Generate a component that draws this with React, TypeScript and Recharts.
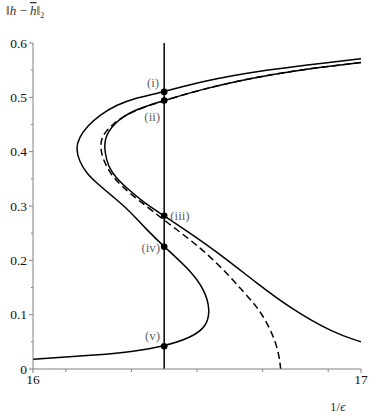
import {
  ComposedChart,
  Customized,
  Line,
  ReferenceLine,
  Scatter,
  XAxis,
  YAxis,
} from 'recharts';

// outer solid branch (S-shaped)
const curveA = [
  { x: 17.0, y: 0.571 },
  { x: 16.916, y: 0.565 },
  { x: 16.712, y: 0.551 },
  { x: 16.509, y: 0.529 },
  { x: 16.4, y: 0.51 },
  { x: 16.306, y: 0.498 },
  { x: 16.255, y: 0.486 },
  { x: 16.204, y: 0.468 },
  { x: 16.164, y: 0.446 },
  { x: 16.14, y: 0.425 },
  { x: 16.131, y: 0.406 },
  { x: 16.141, y: 0.382 },
  { x: 16.164, y: 0.36 },
  { x: 16.189, y: 0.345 },
  { x: 16.25, y: 0.314 },
  { x: 16.291, y: 0.293 },
  { x: 16.347, y: 0.256 },
  { x: 16.4, y: 0.225 },
  { x: 16.479, y: 0.182 },
  { x: 16.524, y: 0.145 },
  { x: 16.54, y: 0.109 },
  { x: 16.53, y: 0.078 },
  { x: 16.479, y: 0.057 },
  { x: 16.4, y: 0.042 },
  { x: 16.306, y: 0.032 },
  { x: 16.204, y: 0.026 },
  { x: 16.0, y: 0.018 },
];

// inner solid branch
const curveB = [
  { x: 17.0, y: 0.564 },
  { x: 16.814, y: 0.551 },
  { x: 16.662, y: 0.535 },
  { x: 16.509, y: 0.514 },
  { x: 16.4, y: 0.494 },
  { x: 16.306, y: 0.477 },
  { x: 16.245, y: 0.452 },
  { x: 16.217, y: 0.424 },
  { x: 16.219, y: 0.398 },
  { x: 16.23, y: 0.372 },
  { x: 16.25, y: 0.354 },
  { x: 16.291, y: 0.33 },
  { x: 16.341, y: 0.305 },
  { x: 16.4, y: 0.282 },
  { x: 16.479, y: 0.25 },
  { x: 16.58, y: 0.207 },
  { x: 16.682, y: 0.158 },
  { x: 16.784, y: 0.112 },
  { x: 16.916, y: 0.066 },
  { x: 17.0, y: 0.05 },
];

// dashed branch
const curveDashed = [
  { x: 17.0, y: 0.564 },
  { x: 16.814, y: 0.551 },
  { x: 16.662, y: 0.535 },
  { x: 16.509, y: 0.514 },
  { x: 16.4, y: 0.494 },
  { x: 16.306, y: 0.476 },
  { x: 16.241, y: 0.451 },
  { x: 16.209, y: 0.428 },
  { x: 16.205, y: 0.407 },
  { x: 16.214, y: 0.385 },
  { x: 16.235, y: 0.36 },
  { x: 16.27, y: 0.336 },
  { x: 16.321, y: 0.311 },
  { x: 16.4, y: 0.274 },
  { x: 16.479, y: 0.238 },
  { x: 16.54, y: 0.207 },
  { x: 16.601, y: 0.17 },
  { x: 16.646, y: 0.139 },
  { x: 16.682, y: 0.115 },
  { x: 16.712, y: 0.087 },
  { x: 16.738, y: 0.053 },
  { x: 16.751, y: 0.023 },
  { x: 16.755, y: 0 },
];

const markers = [
  { x: 16.4, y: 0.51, label: '(i)' },
  { x: 16.4, y: 0.494, label: '(ii)' },
  { x: 16.4, y: 0.282, label: '(iii)' },
  { x: 16.4, y: 0.225, label: '(iv)' },
  { x: 16.4, y: 0.042, label: '(v)' },
];

const sliceX = 16.4;

const xTicks = [16, 16.1, 16.2, 16.3, 16.4, 16.5, 16.6, 16.7, 16.8, 16.9, 17];
const xMajor = ['16', '16.2', '16.4', '16.6', '16.8', '17'];
const yTicks = [0, 0.05, 0.1, 0.15, 0.2, 0.25, 0.3, 0.35, 0.4, 0.45, 0.5, 0.55, 0.6];
const yMajor = ['0', '0.1', '0.2', '0.3', '0.4', '0.5', '0.6'];

const FONT = "'Liberation Serif', serif";
const AXIS = '#808080';

// label placement relative to the dot
const labelPos: Record<string, { dx: number; dy: number; anchor: string }> = {
  '(i)': { dx: -5, dy: -5, anchor: 'end' },
  '(ii)': { dx: -4, dy: 20, anchor: 'end' },
  '(iii)': { dx: 6, dy: 4, anchor: 'start' },
  '(iv)': { dx: -4, dy: 5, anchor: 'end' },
  '(v)': { dx: -4, dy: -6, anchor: 'end' },
};

const YTick = (props: any) => {
  const { x, y, payload } = props;
  const lbl = String(payload.value);
  const major = yMajor.includes(lbl);
  return (
    <g>
      <line x1={x - (major ? 4 : 2)} x2={x} y1={y} y2={y} stroke={AXIS} />
      {major && (
        <text x={x - 6} y={y + 4.5} textAnchor="end" style={{ fontFamily: FONT, fontSize: 13.5 }} fill="#111">
          {lbl}
        </text>
      )}
    </g>
  );
};

const XTick = (props: any) => {
  const { x, y, payload } = props;
  const lbl = String(payload.value);
  const major = xMajor.includes(lbl);
  return (
    <g>
      <line x1={x} x2={x} y1={y} y2={y + (major ? 4 : 3)} stroke={AXIS} />
      {major && (
        <text x={x} y={y + 15} textAnchor="middle" style={{ fontFamily: FONT, fontSize: 13.5 }} fill="#111">
          {lbl}
        </text>
      )}
    </g>
  );
};

const MarkerShape = (props: any) => {
  const { cx, cy, payload } = props;
  const pos = labelPos[payload.label];
  return (
    <g>
      <circle cx={cx} cy={cy} r={3.3} fill="#000" />
      <text
        x={cx + pos.dx}
        y={cy + pos.dy}
        textAnchor={pos.anchor}
        style={{ fontFamily: FONT, fontSize: 13 }}
        fill="#666"
      >
        {payload.label}
      </text>
    </g>
  );
};

const Titles = () => (
  <g style={{ fontFamily: FONT, fontSize: 13 }} fill="#333">
    <text x={6} y={15}>
      {'\u2016'}
      <tspan fontStyle="italic">h</tspan>
      {' \u2212 '}
      <tspan fontStyle="italic" textDecoration="overline">h</tspan>
      {'\u2016'}
      <tspan fontSize={8} dy={3}>2</tspan>
    </text>
    <text x={330} y={411}>
      1/<tspan fontStyle="italic">{'\u03f5'}</tspan>
    </text>
  </g>
);

export default function App() {
  return (
    <div style={{ position: 'absolute', left: 0, top: 0, background: '#fff', fontFamily: FONT }}>
      <ComposedChart
        width={374}
        height={416}
        margin={{ top: 43, right: 13, bottom: 0, left: 0 }}
      >
        <XAxis
          dataKey="x"
          type="number"
          domain={[16, 17]}
          ticks={xTicks}
          tick={<XTick />}
          tickLine={false}
          tickSize={0}
          tickMargin={0}
          axisLine={{ stroke: AXIS }}
          height={47}
          allowDataOverflow
        />
        <YAxis
          type="number"
          domain={[0, 0.6]}
          ticks={yTicks}
          tick={<YTick />}
          tickLine={false}
          tickSize={0}
          tickMargin={0}
          axisLine={{ stroke: AXIS }}
          width={33}
          allowDataOverflow
        />
        <ReferenceLine x={sliceX} stroke="#111" strokeWidth={1.6} />
        <Line
          data={curveA}
          dataKey="y"
          type="basis"
          stroke="#000"
          strokeWidth={1.5}
          dot={false}
          activeDot={false}
          isAnimationActive={false}
        />
        <Line
          data={curveDashed}
          dataKey="y"
          type="basis"
          stroke="#000"
          strokeWidth={1.5}
          strokeDasharray="7 4"
          dot={false}
          activeDot={false}
          isAnimationActive={false}
        />
        <Line
          data={curveB}
          dataKey="y"
          type="basis"
          stroke="#000"
          strokeWidth={1.5}
          dot={false}
          activeDot={false}
          isAnimationActive={false}
        />
        <Scatter data={markers} dataKey="y" shape={<MarkerShape />} isAnimationActive={false} />
        <Customized component={Titles} />
      </ComposedChart>
    </div>
  );
}
